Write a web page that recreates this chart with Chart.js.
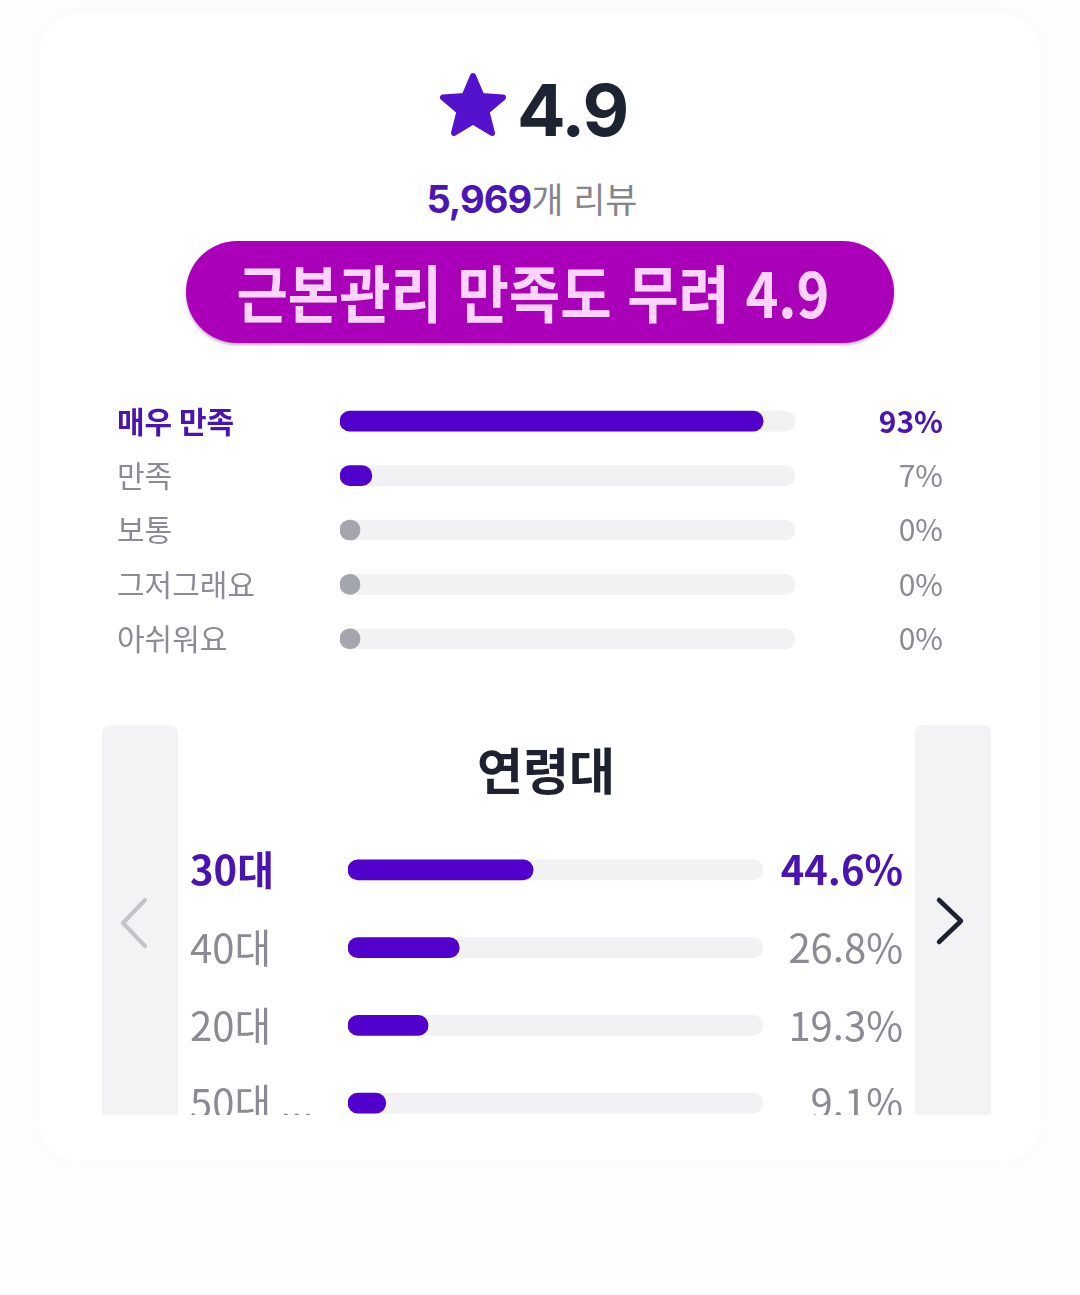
<!DOCTYPE html>
<html lang="ko">
<head>
<meta charset="utf-8">
<script src="https://cdn.jsdelivr.net/npm/chart.js@4"></script>
<style>
  html, body { margin: 0; padding: 0; }
  body {
    width: 1080px; height: 1295px; position: relative; overflow: hidden;
    background: #fdfdfd; font-family: "Noto Sans CJK KR", "Noto Sans", sans-serif;
  }
  .card {
    position: absolute; left: 40px; top: 14px; width: 1000px; height: 1146px;
    background: #fff; border-radius: 36px; box-shadow: 0 0 24px rgba(0,0,0,0.015);
  }
  .abs { position: absolute; }
  #score { left: 517px; top: 60px; font-family: Inter, Roboto, sans-serif; font-weight: 700;
    font-size: 72px; letter-spacing: -2px; color: #1d2331; line-height: 100px; }
  #count { left: 0; width: 1064px; text-align: center; top: 172px; line-height: 52px; }
  #count b { font-family: Inter, Roboto, sans-serif; font-size: 38px; color: #4b16b5; letter-spacing: -1px; }
  #count span { font-size: 35px; color: #85858c; }
  #pill { left: 186px; top: 241px; width: 708px; height: 102px; border-radius: 51px;
    background: #ab00b9; box-shadow: 0 2px 3px rgba(80,0,90,0.35); }
  #pill div { position: absolute; left: 0; right: 0; top: 10px; text-align: center;
    font-size: 62px; font-weight: 700; color: #ffd3ff; line-height: 80px;
    transform: translateX(-7px) scaleX(0.90); text-shadow: 0 0 2px #8a2090; }
  .side { top: 725px; width: 76px; height: 390px; background: #f3f3f5; border-radius: 8px 8px 0 0; }
  #ageTitle { left: 0; width: 1092px; text-align: center; top: 730px; font-size: 50px;
    font-weight: 700; color: #1e2130; line-height: 76px; }
  #ageWrap { left: 190px; top: 807px; width: 713px; height: 308px; overflow: hidden; }
</style>
</head>
<body>
<div class="card"></div>

<svg class="abs" style="left:436px;top:70px" width="74" height="72" viewBox="0 0 74 72">
  <polygon points="37,6 45.5,26 67,27.5 50.5,41.5 56,63 37,51.5 18,63 23.5,41.5 7,27.5 28.5,26"
    fill="#5412cc" stroke="#5412cc" stroke-width="6" stroke-linejoin="round"/>
</svg>
<div id="score" class="abs">4.9</div>
<div id="count" class="abs"><b>5,969</b><span>개 리뷰</span></div>

<div id="pill" class="abs"><div>근본관리 만족도 무려 4.9</div></div>

<canvas id="rateChart" class="abs" style="left:117px;top:376px" width="826" height="308"></canvas>

<div class="abs side" style="left:102px"></div>
<div class="abs side" style="left:915px"></div>
<svg class="abs" style="left:115px;top:895px" width="40" height="56">
  <polyline points="30,5 8,28 30,51" fill="none" stroke="#c4c4c8" stroke-width="4" stroke-linecap="round" stroke-linejoin="round"/>
</svg>
<svg class="abs" style="left:930px;top:895px" width="40" height="56">
  <polyline points="9,5 31,26 9,47" fill="none" stroke="#1e2130" stroke-width="4.5" stroke-linecap="round" stroke-linejoin="round"/>
</svg>
<div id="ageTitle" class="abs">연령대</div>
<div id="ageWrap" class="abs"><canvas id="ageChart" width="713" height="359"></canvas></div>

<script>
"use strict";

//--------------------DATA

// satisfaction rating
let rateLabels = ["매우 만족", "만족", "보통", "그저그래요", "아쉬워요"];
let ratePercents = [93, 7, 0, 0, 0];

// age groups
let ageLabels = ["30대", "40대", "20대", "50대 ..."];
let agePercents = [44.6, 26.8, 19.3, 9.1];

//--------------------STYLE

const FONT = "'Noto Sans CJK KR', 'Noto Sans', sans-serif";
const PURPLE = "#5200cc";
const LABEL_PURPLE = "#4a14b0";
const GRAY_TEXT = "#8b8b93";
const TRACK = "#f2f2f5";
const DOT = "#a5a5ad";

//--------------------FUNCTIONS

// builds one horizontal "progress" chart
function makeBars(canvasId, labels, values, pctLabels, opts) {
  const ctx = document.getElementById(canvasId).getContext("2d");
  const tickColor = (c) => (c.index === 0 ? LABEL_PURPLE : GRAY_TEXT);
  const tickFont = (c) => ({
    family: FONT,
    size: opts.fontSize,
    weight: c.index === 0 ? "bold" : "normal",
  });

  return new Chart(ctx, {
    type: "bar",
    data: {
      labels: labels,
      datasets: [
        {
          // filled part (drawn on top)
          data: values,
          backgroundColor: (c) => (c.raw === 0 ? DOT : PURPLE),
          borderRadius: 10,
          borderSkipped: false,
          barThickness: 20,
          minBarLength: 20,
          grouped: false,
        },
        {
          // background track
          data: labels.map(() => 100),
          backgroundColor: TRACK,
          borderRadius: 10,
          borderSkipped: false,
          barThickness: 20,
          grouped: false,
        },
      ],
    },
    options: {
      indexAxis: "y",
      responsive: false,
      animation: false,
      layout: { padding: 0 },
      plugins: { legend: { display: false }, tooltip: { enabled: false } },
      scales: {
        x: { min: 0, max: 100, display: false },
        y: {
          position: "left",
          grid: { display: false, drawTicks: false },
          border: { display: false },
          ticks: { crossAlign: "far", padding: 0, color: tickColor, font: tickFont },
          afterFit: (s) => { s.width = opts.leftWidth; },
        },
        yPct: {
          type: "category",
          labels: pctLabels,
          position: "right",
          offset: true,
          grid: { display: false, drawTicks: false },
          border: { display: false },
          ticks: { crossAlign: "far", padding: 0, color: tickColor, font: tickFont },
          afterFit: (s) => { s.width = opts.rightWidth; },
        },
      },
    },
  });
}

//--------------------FUNCTION CALLS

makeBars("rateChart", rateLabels, ratePercents,
  ratePercents.map((v) => v + "%"),
  { fontSize: 30, leftWidth: 223, rightWidth: 148 });

makeBars("ageChart", ageLabels, agePercents,
  agePercents.map((v) => v.toFixed(1) + "%"),
  { fontSize: 40, leftWidth: 158, rightWidth: 140 });
</script>
</body>
</html>
